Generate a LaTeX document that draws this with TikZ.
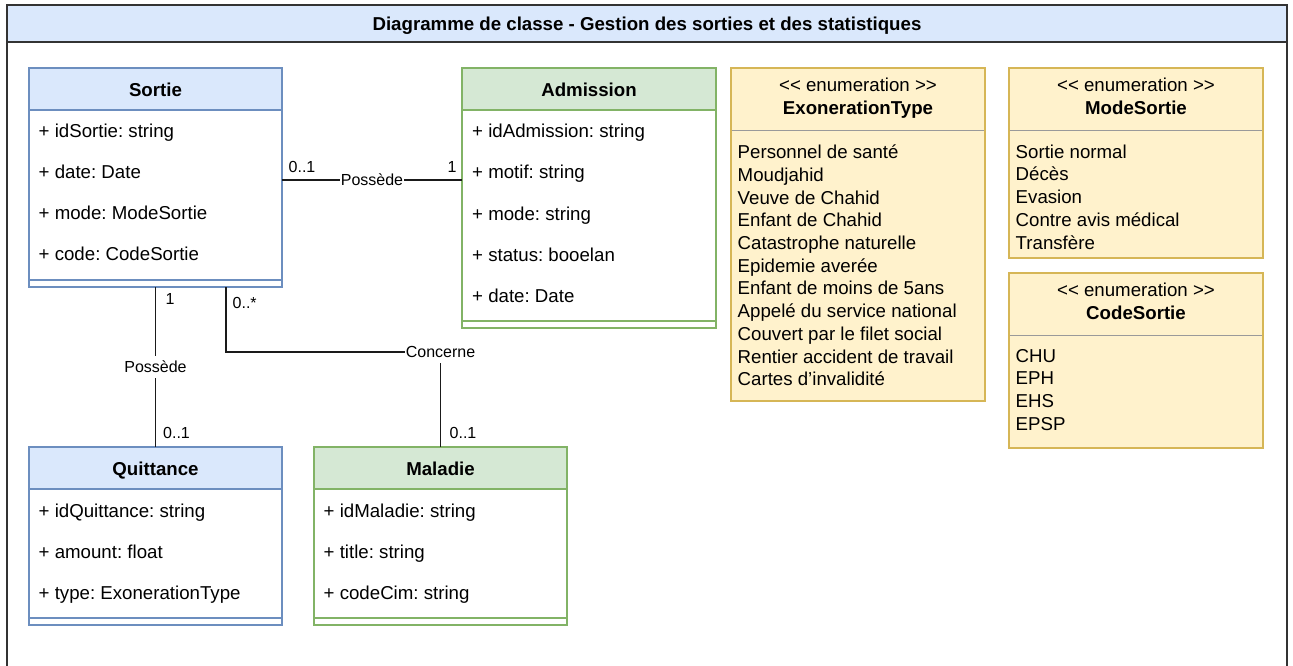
\documentclass[tikz,border=0pt]{standalone}
\usepackage{fontspec}
\setmainfont{Liberation Sans}
\usetikzlibrary{calc}
\frenchspacing

\definecolor{bluefill}{HTML}{DAE8FC}
\definecolor{bluestroke}{HTML}{6C8EBF}
\definecolor{greenfill}{HTML}{D5E8D4}
\definecolor{greenstroke}{HTML}{82B366}
\definecolor{yellowfill}{HTML}{FFF2CC}
\definecolor{yellowstroke}{HTML}{D6B656}
\definecolor{sepgray}{HTML}{9A9A9A}
\definecolor{framegray}{HTML}{333333}
\definecolor{linkgray}{HTML}{1A1A1A}

\tikzset{
  classframe/.style={inner sep=0pt, outer sep=0pt, fill=white},
  classname/.style={font=\fontsize{18.67}{22.4}\selectfont\bfseries, inner sep=0pt, text height=13.4pt, text depth=0pt},
  stereo/.style={font=\fontsize{18.67}{22.4}\selectfont, inner sep=0pt, text height=13.4pt, text depth=0pt},
  attr/.style={font=\fontsize{18.67}{22.4}\selectfont, anchor=west, inner sep=0pt, text height=13.4pt, text depth=0pt},
  mult/.style={font=\fontsize{16}{19.2}\selectfont, anchor=west, inner sep=0pt, text height=11.5pt, text depth=0pt},
  assoc/.style={draw=linkgray, line width=1.3pt},
  assoclabel/.style={font=\fontsize{16}{19.2}\selectfont, fill=white, inner xsep=0.5pt, inner ysep=5pt, text height=11.5pt, text depth=0pt},
}

% UML class: name, left x, top y, width, height, header fill, stroke, title
\newcommand\umlclass[8]{%
  \node[classframe, minimum width=#4pt, minimum height=#5pt, anchor=north west] (#1) at (#2,#3) {};
  \fill[#6] (#1.north west) rectangle ([yshift=-42pt]#1.north east);
  \draw[#7, line width=1.3pt] ([yshift=-42pt]#1.north west) -- ([yshift=-42pt]#1.north east);
  \draw[#7, line width=1.3pt] ([yshift=7pt]#1.south west) -- ([yshift=7pt]#1.south east);
  \draw[#7, line width=1.3pt] (#1.north west) rectangle (#1.south east);
  \node[classname] (#1-title) at ([yshift=-21.5pt]#1.north) {#8};
}

% UML enumeration: name, left x, top y, width, height, title
\newcommand\umlenum[6]{%
  \node[inner sep=0pt, outer sep=0pt, fill=yellowfill, draw=yellowstroke, line width=1.3pt,
        minimum width=#4pt, minimum height=#5pt, anchor=north west] (#1) at (#2,#3) {};
  \node[stereo] (#1-stereo) at ([yshift=-17pt]#1.north) {{<}{<} enumeration {>}{>}};
  \node[classname] (#1-title) at ([yshift=-40pt]#1.north) {#6};
  \draw[sepgray, line width=1.3pt] ([yshift=-62.5pt,xshift=0.65pt]#1.north west) -- ([yshift=-62.5pt,xshift=-0.65pt]#1.north east);
}

\begin{document}
\begin{tikzpicture}[x=1pt, y=-1pt]
\useasboundingbox (0,0) rectangle (1293,665);

% outer frame with title band
\fill[white] (0,0) rectangle (1293,665);
\fill[bluefill] (7,5) rectangle (1287,41.5);
\draw[framegray, line width=2pt] (7,41.5) -- (1287,41.5);
\draw[framegray, line width=2pt] (7,5) rectangle (1287,680);
\node[classname] (title) at (647,23.5) {Diagramme de classe - Gestion des sorties et des statistiques};

% classes
\umlclass{sortie}{29}{68}{253}{219}{bluefill}{bluestroke}{Sortie}
\umlclass{admission}{462}{68}{254}{260}{greenfill}{greenstroke}{Admission}
\umlclass{quittance}{29}{447}{253}{178}{bluefill}{bluestroke}{Quittance}
\umlclass{maladie}{314}{447}{253}{178}{greenfill}{greenstroke}{Maladie}

\foreach \t [count=\i from 0] in {+ idSortie: string, + date: Date, + mode: ModeSortie, + code: CodeSortie} {
  \pgfmathsetmacro\yy{-63-41*\i}
  \node[attr] (sortie-a\i) at ([xshift=9.5pt,yshift=\yy pt]sortie.north west) {\t};
}
\foreach \t [count=\i from 0] in {+ idAdmission: string, + motif: string, + mode: string, + status: booelan, + date: Date} {
  \pgfmathsetmacro\yy{-63-41.2*\i}
  \node[attr] (admission-a\i) at ([xshift=10pt,yshift=\yy pt]admission.north west) {\t};
}
\foreach \t [count=\i from 0] in {+ idQuittance: string, + amount: float, + type: ExonerationType} {
  \pgfmathsetmacro\yy{-64-40.8*\i}
  \node[attr] (quittance-a\i) at ([xshift=9.5pt,yshift=\yy pt]quittance.north west) {\t};
}
\foreach \t [count=\i from 0] in {+ idMaladie: string, + title: string, + codeCim: string} {
  \pgfmathsetmacro\yy{-64-40.8*\i}
  \node[attr] (maladie-a\i) at ([xshift=9.5pt,yshift=\yy pt]maladie.north west) {\t};
}

% enumerations
\umlenum{exo}{731}{68}{254}{333}{ExonerationType}
\umlenum{modesortie}{1009}{68}{254}{190}{ModeSortie}
\umlenum{codesortie}{1009}{273}{254}{175}{CodeSortie}

\foreach \t [count=\i from 0] in {Personnel de santé, Moudjahid, Veuve de Chahid, Enfant de Chahid, Catastrophe naturelle, Epidemie averée, Enfant de moins de 5ans, Appelé du service national, Couvert par le filet social, Rentier accident de travail, Cartes d’invalidité} {
  \pgfmathsetmacro\yy{-84-22.7*\i}
  \node[attr] (exo-v\i) at ([xshift=6.5pt,yshift=\yy pt]exo.north west) {\t};
}
\foreach \t [count=\i from 0] in {Sortie normal, Décès, Evasion, Contre avis médical, Transfère} {
  \pgfmathsetmacro\yy{-83.5-22.7*\i}
  \node[attr] (modesortie-v\i) at ([xshift=6.5pt,yshift=\yy pt]modesortie.north west) {\t};
}
\foreach \t [count=\i from 0] in {CHU, EPH, EHS, EPSP} {
  \pgfmathsetmacro\yy{-82.5-22.7*\i}
  \node[attr] (codesortie-v\i) at ([xshift=6.5pt,yshift=\yy pt]codesortie.north west) {\t};
}

% associations
\draw[assoc] ([yshift=-2.5pt]sortie.east) -- ([yshift=-2.5pt]sortie.east -| admission.west)
  node[assoclabel, midway] (l-sa) {Possède};
\node[mult] (m-sa1) at (288.5,167) {0..1};
\node[mult] (m-sa2) at (447.5,167) {1};

\draw[assoc] (sortie.south) -- (quittance.north)
  node[assoclabel, midway] (l-sq) {Possède};
\node[mult] (m-sq1) at (165.5,299) {1};
\node[mult] (m-sq2) at (163,433) {0..1};

\coordinate (bend) at ($(maladie.north)+(0,95pt)$);
\draw[assoc] ([xshift=70.5pt]sortie.south) |- (bend) -- (maladie.north);
\node[assoclabel] (l-sm) at (bend) {Concerne};
\node[mult] (m-sm1) at (232.5,303) {0..*};
\node[mult] (m-sm2) at (449.5,433) {0..1};
\end{tikzpicture}
\end{document}
